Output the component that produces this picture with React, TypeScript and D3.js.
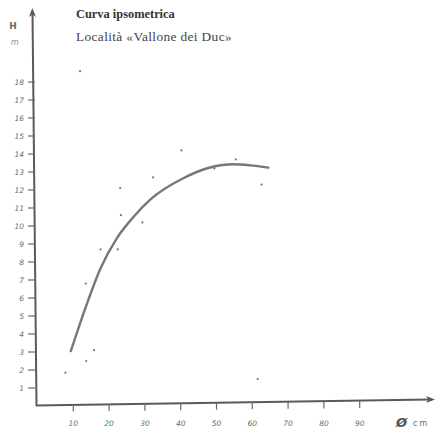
import React from "react";
import * as d3 from "d3";

const diameters = [11.9, 40.2, 55.4, 49.4, 32.3, 23.1, 23.3, 29.3, 17.6, 22.4, 13.5, 15.8, 13.6, 7.8, 61.5, 62.6];
const heights = [18.6, 14.2, 13.7, 13.2, 12.7, 12.1, 10.6, 10.2, 8.7, 8.7, 6.8, 3.1, 2.5, 1.85, 1.5, 12.3];

const curveDiam = [9.3, 14.2, 17.5, 22.1, 26.8, 31.4, 40.7, 48.2, 54.7, 59.4, 64.5];
const curveH = [3.05, 5.9, 7.6, 9.3, 10.5, 11.45, 12.65, 13.25, 13.43, 13.37, 13.24];

const xTicks = [10, 20, 30, 40, 50, 60, 70, 80, 90];
const yTicks = [1, 2, 3, 4, 5, 6, 7, 8, 9, 10, 11, 12, 13, 14, 15, 16, 17, 18];

const title = "Curva ipsometrica";
const subtitle = "Località «Vallone dei Duc»";

export default function App() {
  const x = d3.scaleLinear().domain([0, 100]).range([37.5, 395.5]);
  const y = d3.scaleLinear().domain([0, 18]).range([406, 82]);

  const curvePts: [number, number][] = curveDiam.map((d, i) => [d, curveH[i]]);
  const line = d3
    .line<[number, number]>()
    .x((d) => x(d[0]))
    .y((d) => y(d[1]))
    .curve(d3.curveMonotoneX);

  const axisColor = "#5a5a5a";
  const labelColor = "#6a6a6a";
  const hand = "'DejaVu Sans', sans-serif";

  return (
    <svg
      width={437}
      height={430}
      style={{ position: "absolute", left: 0, top: 0, background: "#fff" }}
    >
      {/* title */}
      <text x={76} y={18} fontFamily="'Liberation Serif', serif" fontWeight="bold" fontSize={12.4} fill="#333">
        {title}
      </text>
      <text x={76} y={41} fontFamily="'Liberation Serif', serif" fontSize={13.4} letterSpacing={0.35} fill="#444">
        {subtitle}
      </text>

      {/* y axis label */}
      <text x={13} y={29} fontFamily={hand} fontWeight="bold" fontSize={9} fill={labelColor} textAnchor="middle">
        H
      </text>
      <text x={15} y={45} fontFamily={hand} fontStyle="italic" fontSize={8} fill="#888" textAnchor="middle">
        m
      </text>

      {/* axes */}
      <line x1={32.5} y1={12} x2={36.5} y2={406} stroke={axisColor} strokeWidth={2} />
      <path d="M32.3,8 L29,17 L32.6,14.5 L36,17 Z" fill={axisColor} />
      <line x1={36} y1={405.5} x2={430} y2={399.5} stroke={axisColor} strokeWidth={2} />
      <path d="M435,399.5 L426,396 L428.5,399.6 L426,403 Z" fill={axisColor} />

      {/* y ticks */}
      {yTicks.map((t) => (
        <g key={"y" + t}>
          <line x1={28} x2={35} y1={y(t)} y2={y(t)} stroke={labelColor} strokeWidth={1.2} />
          <text
            x={24}
            y={y(t)}
            dy="0.35em"
            textAnchor="end"
            fontFamily={hand}
            fontStyle="italic"
            fontSize={7.5}
            fill={labelColor}
          >
            {t}
          </text>
        </g>
      ))}

      {/* x ticks */}
      {xTicks.map((t) => (
        <g key={"x" + t}>
          <line x1={x(t)} x2={x(t)} y1={405 - t * 0.045} y2={412 - t * 0.045} stroke={labelColor} strokeWidth={1.2} />
          <text
            x={x(t)}
            y={426}
            textAnchor="middle"
            fontFamily={hand}
            fontStyle="italic"
            fontSize={7.5}
            fill={labelColor}
          >
            {t}
          </text>
        </g>
      ))}
      <text x={396} y={427} fontFamily={hand} fontStyle="italic" fontWeight="bold" fontSize={13} fill="#555">
        Ø
      </text>
      <text x={413} y={426} fontFamily={hand} fontSize={8} fill={labelColor} letterSpacing={2}>
        cm
      </text>

      {/* fitted curve */}
      <path d={line(curvePts) || ""} fill="none" stroke="#777" strokeWidth={2.4} strokeLinecap="round" />

      {/* observations */}
      {diameters.map((d, i) => (
        <circle key={"p" + i} cx={x(d)} cy={y(heights[i])} r={1.1} fill="#777" />
      ))}
    </svg>
  );
}
